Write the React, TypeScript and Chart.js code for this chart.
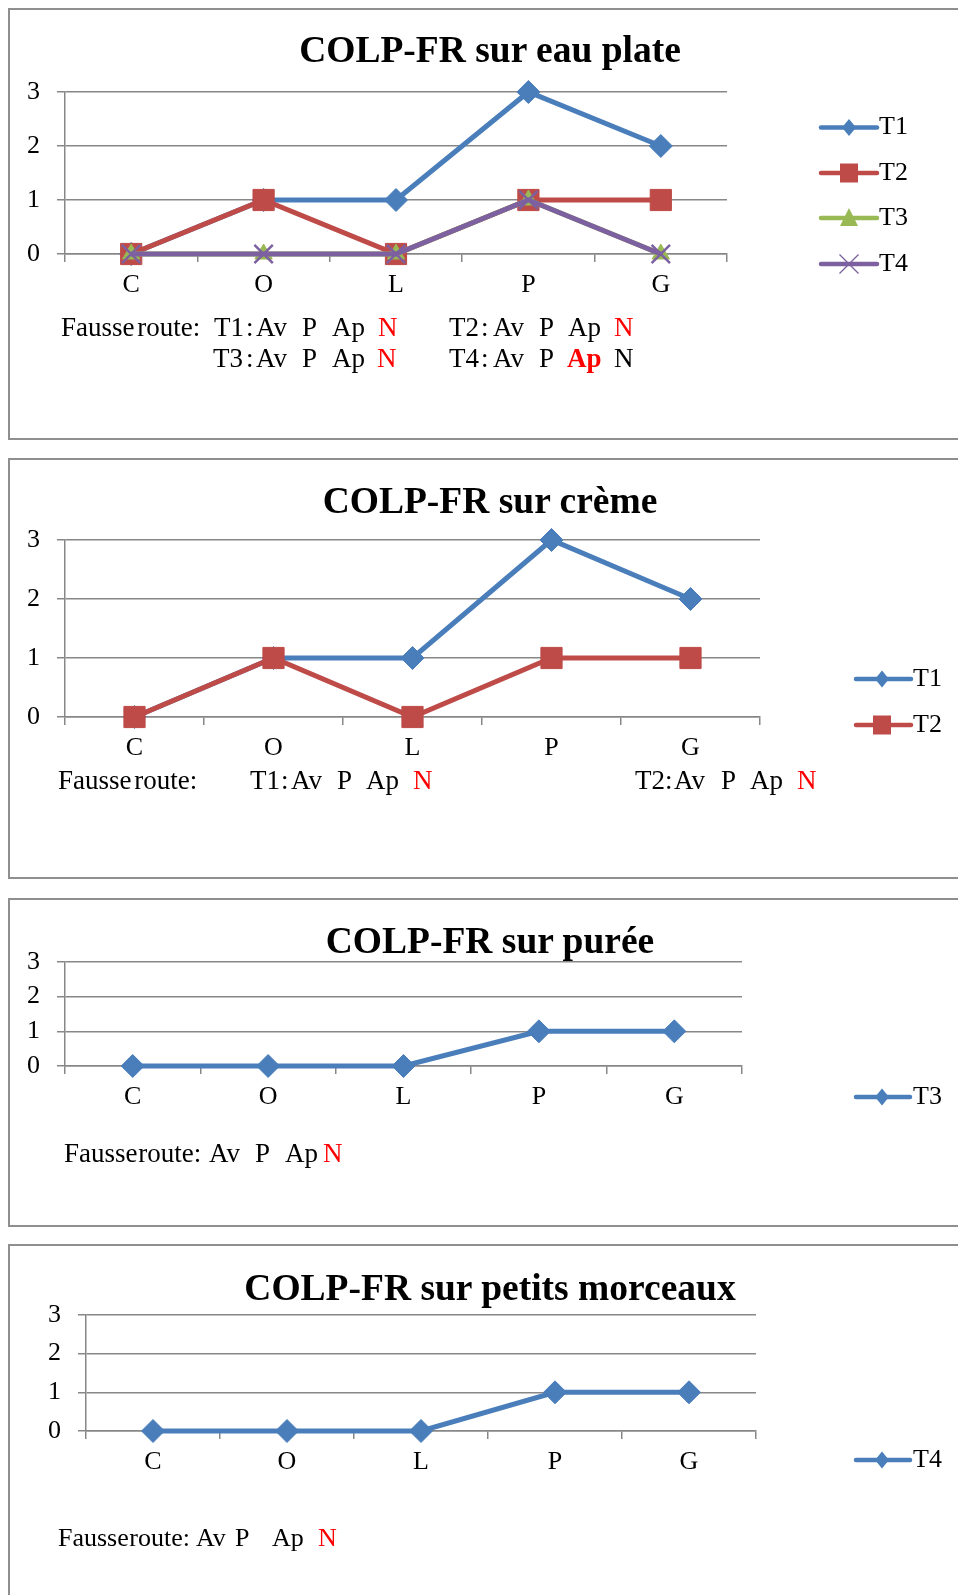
import React, { useEffect, useRef } from 'react';
import { Chart, registerables } from 'chart.js';

Chart.register(...registerables);

// ---------- data ----------
const categories = ['C', 'O', 'L', 'P', 'G'];
const yMin = 0;
const yMax = 3;
const yStep = 1;

const eauT1 = [0, 1, 1, 3, 2];
const eauT2 = [0, 1, 0, 1, 1];
const eauT3 = [0, 0, 0, 1, 0];
const eauT4 = [0, 0, 0, 1, 0];

const cremeT1 = [0, 1, 1, 3, 2];
const cremeT2 = [0, 1, 0, 1, 1];

const pureeT3 = [0, 0, 0, 1, 1];

const morceauxT4 = [0, 0, 0, 1, 1];

const titles = [
  'COLP-FR sur eau plate',
  'COLP-FR sur crème',
  'COLP-FR sur purée',
  'COLP-FR sur petits morceaux',
];

// ---------- styles ----------
const SERIF = "'Liberation Serif', 'Times New Roman', serif";
const BLUE = '#4A7EBB';
const RED = '#BE4B48';
const GREEN = '#98B954';
const PURPLE = '#7D60A0';
const GRID = '#878787';
const BOX = '#8f8f8f';
const X_AXIS_H = 60;
const W = 958;
const AXIS_FONT = 26;
const TITLE_FONT = 37.5;

type Shape = 'rectRot' | 'rect' | 'triangle' | 'crossRot';
type Series = { label: string; data: number[]; color: string; shape: Shape; radius: number; order: number };
type NoteItem = { t: string; x: number; y: number; red?: boolean; bold?: boolean; ws?: number; fs?: number };
type Panel = {
  title: string;
  titleBaseline: number;
  series: Series[];
  box: { top: number; height: number };
  canvas: { top: number; height: number };
  plot: { left: number; right: number; top: number; bottom: number };
  legend: { x1: number; x2: number; markX: number; textX: number; rows: number[] };
  notes: NoteItem[];
};

const s = (label: string, data: number[], color: string, shape: Shape, order: number): Series => ({
  label,
  data,
  color,
  shape,
  order,
  radius: shape === 'rect' ? 15 : shape === 'crossRot' ? 13 : shape === 'triangle' ? 10 : 11.5,
});

const FR = 'Fausse route:';

const panels: Panel[] = [
  {
    title: titles[0],
    titleBaseline: 62,
    series: [
      s('T1', eauT1, BLUE, 'rectRot', 4),
      s('T2', eauT2, RED, 'rect', 3),
      s('T3', eauT3, GREEN, 'triangle', 2),
      s('T4', eauT4, PURPLE, 'crossRot', 1),
    ],
    box: { top: 8, height: 432 },
    canvas: { top: 10, height: 428 },
    plot: { left: 65, right: 727, top: 92, bottom: 254 },
    legend: { x1: 821, x2: 877, markX: 849, textX: 879, rows: [127.5, 173, 218, 264] },
    notes: [
      { t: FR, x: 61, y: 337, ws: -4 },
      { t: 'T1', x: 214, y: 337 }, { t: ':', x: 246, y: 337 }, { t: 'Av', x: 256, y: 337 },
      { t: 'P', x: 302, y: 337 }, { t: 'Ap', x: 332, y: 337 }, { t: 'N', x: 378, y: 337, red: true },
      { t: 'T2', x: 449, y: 337 }, { t: ':', x: 481, y: 337 }, { t: 'Av', x: 493, y: 337 },
      { t: 'P', x: 539, y: 337 }, { t: 'Ap', x: 568, y: 337 }, { t: 'N', x: 614, y: 337, red: true },
      { t: 'T3', x: 213, y: 368 }, { t: ':', x: 246, y: 368 }, { t: 'Av', x: 256, y: 368 },
      { t: 'P', x: 302, y: 368 }, { t: 'Ap', x: 332, y: 368 }, { t: 'N', x: 377, y: 368, red: true },
      { t: 'T4', x: 449, y: 368 }, { t: ':', x: 481, y: 368 }, { t: 'Av', x: 493, y: 368 },
      { t: 'P', x: 539, y: 368 }, { t: 'Ap', x: 567, y: 368, red: true, bold: true }, { t: 'N', x: 614, y: 368 },
    ],
  },
  {
    title: titles[1],
    titleBaseline: 513,
    series: [
      s('T1', cremeT1, BLUE, 'rectRot', 2),
      s('T2', cremeT2, RED, 'rect', 1),
    ],
    box: { top: 458, height: 421 },
    canvas: { top: 460, height: 417 },
    plot: { left: 65, right: 760, top: 540, bottom: 717 },
    legend: { x1: 856, x2: 911, markX: 882, textX: 913, rows: [679, 725] },
    notes: [
      { t: FR, x: 58, y: 790, ws: -4 },
      { t: 'T1', x: 250, y: 790 }, { t: ':', x: 281, y: 790 }, { t: 'Av', x: 291, y: 790 },
      { t: 'P', x: 337, y: 790 }, { t: 'Ap', x: 366, y: 790 }, { t: 'N', x: 413, y: 790, red: true },
      { t: 'T2', x: 635, y: 790 }, { t: ':', x: 665, y: 790 }, { t: 'Av', x: 674, y: 790 },
      { t: 'P', x: 721, y: 790 }, { t: 'Ap', x: 750, y: 790 }, { t: 'N', x: 797, y: 790, red: true },
    ],
  },
  {
    title: titles[2],
    titleBaseline: 953,
    series: [s('T3', pureeT3, BLUE, 'rectRot', 1)],
    box: { top: 898, height: 329 },
    canvas: { top: 900, height: 325 },
    plot: { left: 65, right: 742, top: 962, bottom: 1066 },
    legend: { x1: 856, x2: 910, markX: 882, textX: 913, rows: [1097] },
    notes: [
      { t: FR, x: 64, y: 1163, ws: -6 },
      { t: 'Av', x: 209, y: 1163 }, { t: 'P', x: 255, y: 1163 },
      { t: 'Ap', x: 285, y: 1163 }, { t: 'N', x: 323, y: 1163, red: true },
    ],
  },
  {
    title: titles[3],
    titleBaseline: 1300,
    series: [s('T4', morceauxT4, BLUE, 'rectRot', 1)],
    box: { top: 1244, height: 420 },
    canvas: { top: 1246, height: 349 },
    plot: { left: 86, right: 756, top: 1315, bottom: 1431 },
    legend: { x1: 856, x2: 910, markX: 882, textX: 913, rows: [1460] },
    notes: [
      { t: FR, x: 58, y: 1547, ws: -6, fs: 26 },
      { t: 'Av', x: 196, y: 1547, fs: 26 }, { t: 'P', x: 235, y: 1547, fs: 26 },
      { t: 'Ap', x: 272, y: 1547, fs: 26 }, { t: 'N', x: 318, y: 1547, red: true, fs: 26 },
    ],
  },
];

function drawMarker(ctx: CanvasRenderingContext2D, shape: Shape, x: number, y: number, color: string) {
  ctx.save();
  ctx.fillStyle = color;
  ctx.strokeStyle = color;
  ctx.beginPath();
  if (shape === 'rectRot') {
    ctx.moveTo(x, y - 8.5);
    ctx.lineTo(x + 7, y);
    ctx.lineTo(x, y + 8.5);
    ctx.lineTo(x - 7, y);
    ctx.closePath();
    ctx.fill();
  } else if (shape === 'rect') {
    ctx.rect(x - 9, y - 9.5, 18, 19);
    ctx.fill();
  } else if (shape === 'triangle') {
    ctx.moveTo(x, y - 10);
    ctx.lineTo(x + 9, y + 8);
    ctx.lineTo(x - 9, y + 8);
    ctx.closePath();
    ctx.fill();
  } else {
    ctx.lineWidth = 1.3;
    ctx.moveTo(x - 9.5, y - 9.5);
    ctx.lineTo(x + 9.5, y + 9.5);
    ctx.moveTo(x + 9.5, y - 9.5);
    ctx.lineTo(x - 9.5, y + 9.5);
    ctx.stroke();
  }
  ctx.restore();
}

function PanelChart({ panel }: { panel: Panel }) {
  const ref = useRef<HTMLCanvasElement>(null);
  useEffect(() => {
    const p = panel;
    const legendPlugin = {
      id: 'panelLegend',
      afterDraw(chart: any) {
        const ctx: CanvasRenderingContext2D = chart.ctx;
        p.series.forEach((sr, i) => {
          const y = p.legend.rows[i] - p.canvas.top;
          ctx.save();
          ctx.strokeStyle = sr.color;
          ctx.lineWidth = 4.5;
          ctx.lineCap = 'round';
          ctx.beginPath();
          ctx.moveTo(p.legend.x1, y);
          ctx.lineTo(p.legend.x2, y);
          ctx.stroke();
          ctx.restore();
          drawMarker(ctx, sr.shape, p.legend.markX, y, sr.color);
          ctx.save();
          ctx.fillStyle = '#000';
          ctx.font = `${AXIS_FONT}px ${SERIF}`;
          ctx.textBaseline = 'middle';
          ctx.textAlign = 'left';
          ctx.fillText(sr.label, p.legend.textX, y);
          ctx.restore();
        });
      },
    };
    const tickFont = { family: SERIF, size: AXIS_FONT };
    const chart = new Chart(ref.current as HTMLCanvasElement, {
      type: 'line',
      data: {
        labels: categories,
        datasets: p.series.map((sr) => ({
          label: sr.label,
          data: sr.data,
          borderColor: sr.color,
          backgroundColor: sr.color,
          borderWidth: 5,
          pointStyle: sr.shape,
          pointRadius: sr.radius,
          pointHoverRadius: sr.radius,
          pointBackgroundColor: sr.color,
          pointBorderColor: sr.color,
          pointBorderWidth: sr.shape === 'crossRot' ? 2.5 : 1,
          tension: 0,
          order: sr.order,
          clip: false as any,
        })),
      },
      options: {
        responsive: false,
        maintainAspectRatio: false,
        animation: false,
        events: [],
        layout: {
          padding: {
            left: 0,
            top: p.plot.top - p.canvas.top,
            right: W - p.plot.right,
            bottom: p.canvas.top + p.canvas.height - p.plot.bottom - X_AXIS_H,
          },
        },
        plugins: {
          legend: { display: false },
          title: { display: false },
          tooltip: { enabled: false },
        },
        scales: {
          x: {
            type: 'category',
            offset: true,
            grid: {
              display: true,
              drawOnChartArea: false,
              drawTicks: true,
              tickLength: 8,
              offset: true,
              color: GRID,
              lineWidth: 1.5,
            },
            border: { display: true, color: GRID, width: 1.5 },
            ticks: { color: '#000', font: tickFont, padding: 8, maxRotation: 0, autoSkip: false },
            afterFit: (a: any) => {
              a.height = X_AXIS_H;
            },
          },
          y: {
            min: yMin,
            max: yMax,
            ticks: { stepSize: yStep, color: '#000', font: tickFont, padding: 17 },
            grid: { color: GRID, lineWidth: 1.5, tickLength: 8, drawTicks: true },
            border: { display: true, color: GRID, width: 1.5 },
            afterFit: (a: any) => {
              a.width = p.plot.left;
            },
          },
        },
      } as any,
      plugins: [legendPlugin],
    });
    return () => chart.destroy();
  }, [panel]);
  return (
    <canvas
      ref={ref}
      width={W}
      height={panel.canvas.height}
      style={{ position: 'absolute', left: 0, top: panel.canvas.top, width: W, height: panel.canvas.height }}
    />
  );
}

export default function App() {
  return (
    <div
      style={{
        position: 'absolute',
        left: 0,
        top: 0,
        width: W,
        height: 1595,
        overflow: 'hidden',
        background: '#fff',
        fontFamily: SERIF,
      }}
    >
      {panels.map((p, i) => (
        <React.Fragment key={i}>
          <div
            style={{
              position: 'absolute',
              left: 8,
              top: p.box.top,
              width: 1000,
              height: p.box.height,
              border: `2px solid ${BOX}`,
              boxSizing: 'border-box',
            }}
          />
          <PanelChart panel={p} />
          <div
            style={{
              position: 'absolute',
              left: 0,
              width: 980,
              top: p.titleBaseline - 0.8375 * TITLE_FONT,
              textAlign: 'center',
              fontWeight: 'bold',
              fontSize: TITLE_FONT,
              lineHeight: `${TITLE_FONT}px`,
              color: '#000',
              whiteSpace: 'nowrap',
            }}
          >
            {p.title}
          </div>
          {p.notes.map((n, j) => {
            const fs = n.fs || 27;
            return (
              <span
                key={j}
                style={{
                  position: 'absolute',
                  left: n.x,
                  top: n.y - 0.8375 * fs,
                  fontSize: fs,
                  lineHeight: `${fs}px`,
                  whiteSpace: 'pre',
                  color: n.red ? '#ff0000' : '#000',
                  fontWeight: n.bold ? 'bold' : 'normal',
                  wordSpacing: n.ws ? n.ws : 0,
                }}
              >
                {n.t}
              </span>
            );
          })}
        </React.Fragment>
      ))}
    </div>
  );
}
